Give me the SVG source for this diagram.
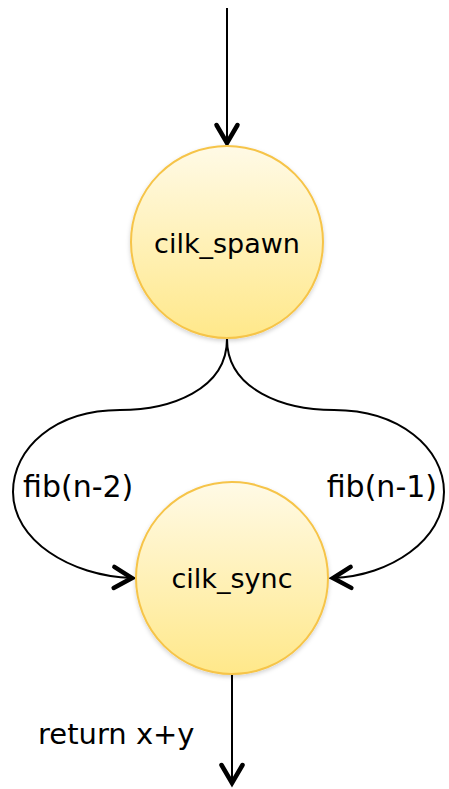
<svg xmlns="http://www.w3.org/2000/svg" width="449" height="789" viewBox="0 0 449 789">
<style>
.node circle{fill:url(#g);stroke:#F6C448;stroke-width:2;filter:url(#sh)}
.lbl{font-family:"DejaVu Sans","Verdana",sans-serif;fill:#000}
.conn path{fill:none;stroke:#000;stroke-width:2}
</style>
<defs>
<linearGradient id="g" x1="0" y1="0" x2="0" y2="1">
<stop offset="0" stop-color="#FFFAE6"/>
<stop offset="1" stop-color="#FFE88A"/>
</linearGradient>
<filter id="sh" x="-20%" y="-20%" width="140%" height="140%">
<feDropShadow dx="0" dy="2" stdDeviation="2" flood-color="#000" flood-opacity="0.18"/>
</filter>
<marker id="ah" markerUnits="userSpaceOnUse" markerWidth="28" markerHeight="30" viewBox="0 0 28 30" refX="22" refY="15" orient="auto">
<path d="M4,4.5 L22,15 L4,25.5" fill="none" stroke="#000" stroke-width="4.5" stroke-linejoin="miter" stroke-linecap="round"/>
</marker>
</defs>
<g id="connectors" class="conn">
<path d="M227,8 L227,143" marker-end="url(#ah)"/>
<path d="M227,339 C227,390 170,410 120,410 C55,410 13,448 13,492 C13,540 70,576 132,578" marker-end="url(#ah)"/>
<path d="M227,339 C227,390 284,410 334,410 C399,410 444,448 444,492 C444,540 390,576 333,578" marker-end="url(#ah)"/>
<path d="M232,674 L232,783" marker-end="url(#ah)"/>
</g>
<g id="cilk_spawn" class="node">
<circle cx="227" cy="242" r="96"/>
<text class="lbl" x="227" y="253" font-size="27" text-anchor="middle">cilk_spawn</text>
</g>
<g id="cilk_sync" class="node">
<circle cx="232" cy="578" r="96"/>
<text class="lbl" x="232" y="588" font-size="27" text-anchor="middle">cilk_sync</text>
</g>
<g id="labels">
<text class="lbl" x="23" y="497" font-size="30">fib(n-2)</text>
<text class="lbl" x="437" y="497" font-size="30" text-anchor="end">fib(n-1)</text>
<text class="lbl" x="38" y="744" font-size="29">return x+y</text>
</g>
</svg>
